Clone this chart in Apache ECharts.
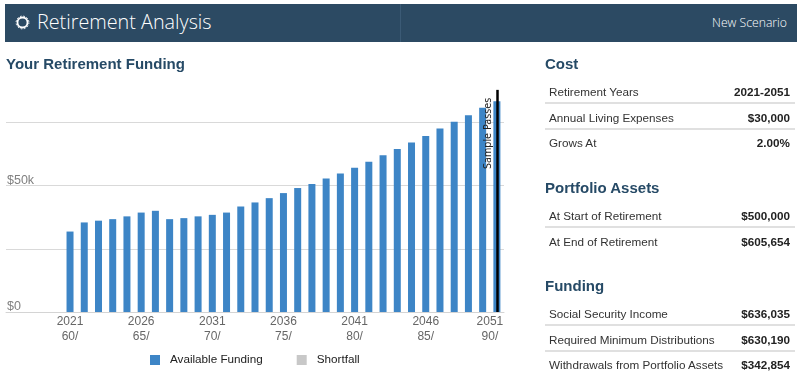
<!DOCTYPE html>
<html>
<head>
<meta charset="utf-8">
<script src="https://cdn.jsdelivr.net/npm/echarts@6/dist/echarts.min.js"></script>
<style>
html,body{margin:0;padding:0;background:#fff;width:800px;height:388px;overflow:hidden;font-family:"Liberation Sans",Arial,sans-serif}
#chart{position:absolute;left:0;top:0;width:800px;height:388px}
.hdr{position:absolute;left:5px;top:4px;width:792px;height:38px;background:#2c4a63;color:#fff;font-family:"Open Sans",sans-serif;font-weight:300}
.hdr .sep{position:absolute;left:395px;top:0;width:1px;height:38px;background:#3b5a75}
.hdr .t{position:absolute;left:32px;top:3px;font-size:19.8px;line-height:30px;white-space:nowrap}
.hdr .n{position:absolute;right:10px;top:9px;font-size:12.2px;line-height:20px;white-space:nowrap}
.hdr svg{position:absolute;left:9px;top:10px}
.h2{position:absolute;font-weight:bold;color:#264a66;white-space:nowrap}
.row{position:absolute;left:545px;width:250px;height:24px;line-height:24px;font-size:11.7px;color:#333}
.row span{position:absolute;left:4px;white-space:nowrap}
.row b{position:absolute;right:5px;white-space:nowrap;color:#222}
.row.line{border-bottom:2px solid #e0e0e0;box-sizing:border-box}
</style>
</head>
<body>
<div id="chart"></div>
<div class="hdr">
  <svg width="17" height="17" viewBox="0 0 17 17"><circle cx="8.5" cy="8.5" r="5" fill="none" stroke="#fff" stroke-width="1.8"/><circle cx="8.5" cy="8.5" r="6.4" fill="none" stroke="#fff" stroke-width="1" stroke-dasharray="1.7 1.65"/></svg>
  <div class="t">Retirement Analysis</div><div class="sep"></div><div class="n">New Scenario</div>
</div>
<div class="h2" style="left:6px;top:55px;font-size:15px;line-height:18px">Your Retirement Funding</div>
<div id="panel"></div>
<script>
var years = ['', '', '', '', 2021, 2022, 2023, 2024, 2025, 2026, 2027, 2028, 2029, 2030, 2031, 2032, 2033, 2034, 2035, 2036, 2037, 2038, 2039, 2040, 2041, 2042, 2043, 2044, 2045, 2046, 2047, 2048, 2049, 2050, 2051];
var ages = ['', '', '', '', 60, 61, 62, 63, 64, 65, 66, 67, 68, 69, 70, 71, 72, 73, 74, 75, 76, 77, 78, 79, 80, 81, 82, 83, 84, 85, 86, 87, 88, 89, 90];
var availableFunding = [null, null, null, null, 31800, 35400, 36100, 36700, 37800, 39300, 40000, 36700, 37100, 37800, 38400, 39300, 41700, 43300, 45000, 47000, 49000, 50600, 52800, 54700, 57000, 59400, 62000, 64400, 67000, 69600, 72500, 75200, 77800, 80700, 83300];
var shortfall = [null, null, null, null, 0, 0, 0, 0, 0, 0, 0, 0, 0, 0, 0, 0, 0, 0, 0, 0, 0, 0, 0, 0, 0, 0, 0, 0, 0, 0, 0, 0, 0, 0, 0];
var labelledYears = [2021, 2026, 2031, 2036, 2041, 2046, 2051];
var samplePassesTop = 87800;
var costRows = [['Retirement Years', '2021-2051'], ['Annual Living Expenses', '$30,000'], ['Grows At', '2.00%']];
var assetRows = [['At Start of Retirement', '$500,000'], ['At End of Retirement', '$605,654']];
var fundingRows = [['Social Security Income', '$636,035'], ['Required Minimum Distributions', '$630,190'], ['Withdrawals from Portfolio Assets', '$342,854']];

function section(title, titleTop, firstRowTop, rows) {
  var html = '<div class="h2" style="left:545px;top:' + titleTop + 'px;font-size:15px;line-height:18px">' + title + '</div>';
  rows.forEach(function (r, i) {
    html += '<div class="row' + (i < rows.length - 1 ? ' line' : '') + '" style="top:' + (firstRowTop + i * 25.5) + 'px"><span>' + r[0] + '</span><b>' + r[1] + '</b></div>';
  });
  return html;
}
document.getElementById('panel').innerHTML =
  section('Cost', 55, 80, costRows) +
  section('Portfolio Assets', 179, 204, assetRows) +
  section('Funding', 277, 302, fundingRows);

var chart = echarts.init(document.getElementById('chart'), null, {renderer: 'canvas'});
chart.setOption({
  animation: false,
  grid: {left: 6, right: 296, top: 59, bottom: 76},
  legend: {
    bottom: 17, left: 145, itemWidth: 10, itemHeight: 10, itemGap: 34,
    icon: 'rect',
    textStyle: {fontFamily: 'Liberation Sans', fontSize: 11.7, color: '#222', padding: [0, 0, 0, 5]},
    data: ['Available Funding', 'Shortfall']
  },
  xAxis: {
    type: 'category',
    data: years.map(function (y, i) {
      return y === 2051 ? {value: i, textStyle: {padding: [0, 14, 0, 0]}} : {value: i};
    }),
    axisTick: {show: false},
    axisLine: {lineStyle: {color: '#d4d4d4', width: 1}},
    axisLabel: {
      interval: function (i) { return labelledYears.indexOf(years[i]) >= 0; },
      formatter: function (v) { var i = +v; return years[i] + '\n' + ages[i] + '/'; },
      fontFamily: 'Liberation Sans', fontSize: 12, lineHeight: 15, color: '#666', margin: 2,
      hideOverlap: false
    }
  },
  yAxis: {
    type: 'value', min: 0, max: 100000, interval: 25000,
    axisLine: {show: false}, axisTick: {show: false},
    splitLine: {showMaxLine: false, lineStyle: {color: '#d9d9d9', width: 1}},
    axisLabel: {
      inside: true, margin: 1, verticalAlign: 'bottom', lineHeight: 10,
      showMaxLabel: false,
      formatter: function (v) { return v === 0 ? '$0' : (v === 50000 ? '$50k' : ''); },
      fontFamily: 'Liberation Sans', fontSize: 12.5, color: '#808080'
    }
  },
  series: [
    {
      name: 'Available Funding', type: 'bar', stack: 'f', data: availableFunding,
      barWidth: 7, itemStyle: {color: '#3d85c6'},
      markLine: {
        silent: true, symbol: 'none', animation: false,
        lineStyle: {color: '#000', width: 2.5, type: 'solid'},
        label: {
          show: true, formatter: 'Sample Passes', position: 'insideEndTop',
          fontFamily: 'DejaVu Sans', fontSize: 9.6, color: '#222', distance: [8, 3]
        },
        data: [[{xAxis: 34, yAxis: 0}, {xAxis: 34, yAxis: samplePassesTop}]]
      }
    },
    {name: 'Shortfall', type: 'bar', stack: 'f', data: shortfall, barWidth: 7, itemStyle: {color: '#c8c8c8'}}
  ]
});
</script>
</body>
</html>
